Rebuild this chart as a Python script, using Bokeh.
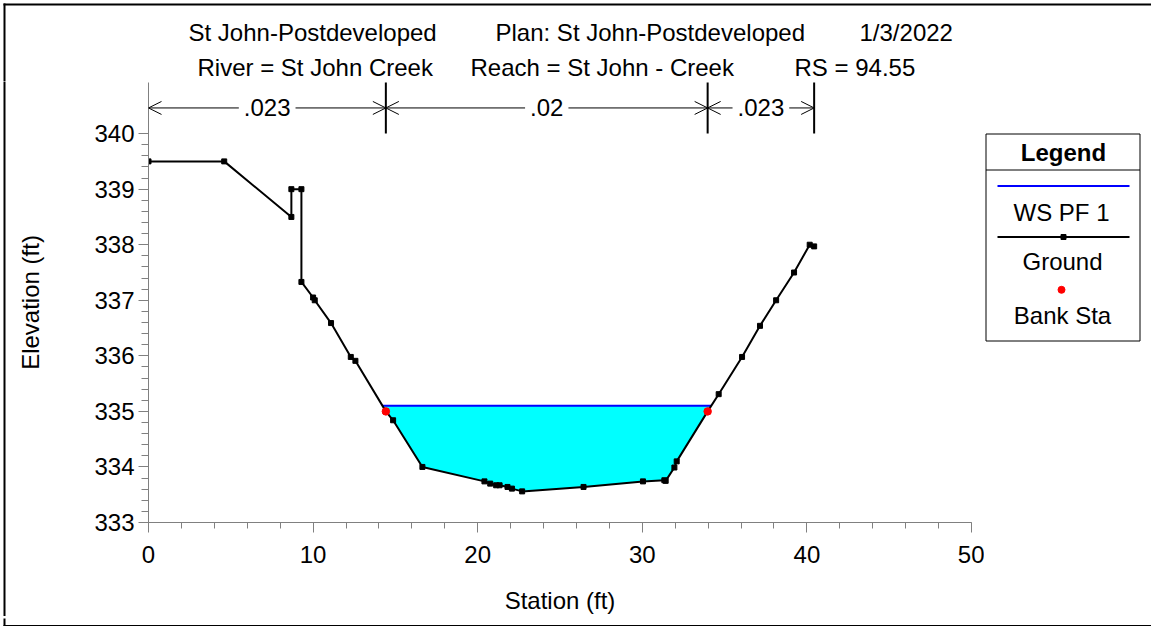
import numpy as np
from bokeh.plotting import figure
from bokeh.layouts import column, row
from bokeh.models import Range1d, FixedTicker, Label, Arrow, OpenHead
from bokeh.core.properties import value
from bokeh.embed import file_html
from bokeh.resources import INLINE

# ---------------- data ----------------
station = [0.0, 4.6, 8.68, 8.68, 9.29, 9.29, 10.0, 10.1, 11.09, 12.29, 12.57,
           14.42, 14.86, 16.64, 20.41, 20.76, 21.12, 21.33, 21.81, 22.08, 22.70,
           26.43, 30.04, 31.34, 31.42, 31.95, 32.09, 33.97, 34.64, 36.06, 37.15,
           38.13, 39.22, 40.17, 40.44]
elevation = [339.5, 339.5, 338.5, 339.0, 339.0, 337.33, 337.05, 337.0, 336.59, 335.98, 335.91,
             335.0, 334.84, 334.0, 333.74, 333.70, 333.67, 333.67, 333.64, 333.61, 333.56,
             333.64, 333.74, 333.76, 333.75, 333.99, 334.10, 335.0, 335.31, 335.98, 336.54,
             337.0, 337.5, 338.0, 337.97]
bank_sta = [14.42, 33.97]
ws_elev = 335.1
n_values = [".023", ".02", ".023"]
n_stations = [0.0, 14.42, 33.97, 40.44]

x_ticks = [0, 10, 20, 30, 40, 50]
y_ticks = [333, 334, 335, 336, 337, 338, 339, 340]

title_line1 = ["St John-Postdeveloped", "Plan: St John-Postdeveloped", "1/3/2022"]
title_line2 = ["River = St John Creek", "Reach = St John - Creek", "RS = 94.55"]
legend_title = "Legend"
legend_items = ["WS PF 1", "Ground", "Bank Sta"]

# ---------------- layout constants (page pixels) ----------------
FONT = "Liberation Sans"
W, H = 1151, 626
TOP_H = 81          # title strip
BOT_H = 10          # bottom frame strip
LEFT_W = 10         # left frame strip
LEG_X0 = 984        # legend panel starts
MID_H = H - TOP_H - BOT_H
MAIN_W = LEG_X0 - LEFT_W
FRAME_TOP = 82
LB = 148 - LEFT_W
FW = 823
RB = MAIN_W - LB - FW
TB = FRAME_TOP - TOP_H
FH = 441
BB = MID_H - TB - FH
X_MIN, X_MAX = 0, 50
Y_MIN, Y_MAX = 333, 340.92
SY = FH / (Y_MAX - Y_MIN)


def dy(py):
    # page pixel y -> elevation in the main frame
    return Y_MIN + (FRAME_TOP + FH - py) / SY


def pixel_fig(width, height, x0, x1, y0, y1):
    f = figure(width=width, height=height, x_range=Range1d(x0, x1), y_range=Range1d(y1, y0),
               x_axis_type=None, y_axis_type=None, output_backend="svg", toolbar_location=None,
               min_border=0)
    f.min_border_left = f.min_border_right = f.min_border_top = f.min_border_bottom = 0
    f.grid.visible = False
    f.outline_line_color = None
    f.background_fill_color = "white"
    f.border_fill_color = "white"
    return f


def put_text(f, xs, ys, texts, align="left", bold=False):
    f.text(x=xs, y=ys, text=texts, text_align=align, text_baseline="middle",
           text_font=value(FONT), text_font_size="24px", text_color="black",
           text_font_style="bold" if bold else "normal")


assert len(station) == len(elevation)
st = np.array(station)
el = np.array(elevation)
bank_elev = [elevation[station.index(s)] for s in bank_sta]

# water polygon from ground and water surface
il = station.index(bank_sta[0])
ir = station.index(bank_sta[1])
i = il
while el[i] < ws_elev:
    i -= 1
xl = st[i] + (ws_elev - el[i]) * (st[i + 1] - st[i]) / (el[i + 1] - el[i])
j = ir
while el[j] < ws_elev:
    j += 1
xr = st[j - 1] + (ws_elev - el[j - 1]) * (st[j] - st[j - 1]) / (el[j] - el[j - 1])
poly_x = [xl] + list(st[i + 1:j]) + [xr]
poly_y = [ws_elev] + list(el[i + 1:j]) + [ws_elev]

# ---------------- main plot ----------------
p = figure(width=MAIN_W, height=MID_H, x_range=Range1d(X_MIN, X_MAX), y_range=Range1d(Y_MIN, Y_MAX),
           output_backend="svg", toolbar_location=None,
           min_border_left=LB, min_border_right=RB, min_border_top=TB, min_border_bottom=BB)
p.grid.visible = False
p.outline_line_color = None
p.background_fill_color = "white"
p.border_fill_color = "white"

p.xaxis.ticker = FixedTicker(ticks=x_ticks, minor_ticks=list(np.arange(X_MIN, X_MAX + 0.1, 2.0)))
p.yaxis.ticker = FixedTicker(ticks=y_ticks, minor_ticks=list(np.round(np.arange(333, 340.01, 0.2), 2)))
for ax in (p.xaxis, p.yaxis):
    ax.axis_line_color = "#808080"
    ax.major_tick_line_color = "#808080"
    ax.minor_tick_line_color = "#808080"
    ax.major_tick_out = 10
    ax.major_tick_in = 0
    ax.minor_tick_out = 6
    ax.minor_tick_in = 0
    ax.major_label_text_font = FONT
    ax.major_label_text_font_size = "24px"
    ax.major_label_text_color = "black"
    ax.axis_label_text_font = FONT
    ax.axis_label_text_font_size = "24px"
    ax.axis_label_text_font_style = "normal"
    ax.axis_label_text_color = "black"
p.xaxis.axis_label = "Station (ft)"
p.yaxis.axis_label = "Elevation (ft)"
p.yaxis.minor_tick_out = 7
p.yaxis.major_label_standoff = 4
p.yaxis.axis_label_standoff = 47
p.xaxis.major_label_standoff = 13
p.xaxis.axis_label_standoff = 21

p.patch(poly_x, poly_y, fill_color="#00FFFF", line_alpha=0)
p.line([xl, xr], [ws_elev, ws_elev], line_color="#0000FF", line_width=2)
p.line(station, elevation, line_color="black", line_width=2)
p.scatter(station, elevation, marker="square", size=5, color="black")
p.scatter(bank_sta, bank_elev, marker="circle", size=7.5, color="red")

# Manning's n markers
n_top = 340.0
ny = dy(107.5)
p.segment(x0=n_stations[1:], y0=[n_top] * 3, x1=n_stations[1:], y1=[Y_MAX + 0.1] * 3,
          line_color="black", line_width=2)
for k in range(len(n_values)):
    a, b = n_stations[k], n_stations[k + 1]
    p.add_layout(Arrow(start=OpenHead(size=13, line_width=1, line_color="black"),
                       end=OpenHead(size=13, line_width=1, line_color="black"),
                       x_start=a, x_end=b, y_start=ny, y_end=ny,
                       line_color="black", line_width=1))
for k in range(len(n_values)):
    a, b = n_stations[k], n_stations[k + 1]
    p.add_layout(Label(x=(a + b) / 2, y=ny, text=n_values[k], text_align="center",
                       text_baseline="middle", text_font=FONT, text_font_size="24px",
                       text_color="black", background_fill_color="white", padding=5))

# ---------------- title strip ----------------
top = pixel_fig(W, TOP_H, 0, W, 0, TOP_H)
put_text(top, [188, 495, 859], [32, 32, 32], title_line1)
put_text(top, [197, 470, 794], [67, 67, 67], title_line2)
top.line([3, W], [4, 4], line_color="black", line_width=2)
top.line([4, 4], [3, TOP_H + 1], line_color="black", line_width=2)

# ---------------- left strip ----------------
left = pixel_fig(LEFT_W, MID_H, 0, LEFT_W, TOP_H, TOP_H + MID_H)
left.line([4, 4], [TOP_H - 1, TOP_H + MID_H + 1], line_color="black", line_width=2)

# ---------------- legend panel ----------------
leg = pixel_fig(W - LEG_X0, MID_H, LEG_X0, W, TOP_H, TOP_H + MID_H)
leg.quad(left=[985.5], right=[1139.5], top=[133.5], bottom=[340.5], fill_alpha=0,
         line_color="black", line_width=1)
leg.line([985.5, 1139.5], [169.5, 169.5], line_color="black", line_width=1)
put_text(leg, [1063], [152], [legend_title], align="center", bold=True)
leg.line([997, 1129], [185.5, 185.5], line_color="#0000FF", line_width=2)
leg.line([997, 1129], [236.5, 236.5], line_color="black", line_width=2)
leg.scatter([1063], [236.5], marker="square", size=5, color="black")
leg.scatter([1061], [289.3], marker="circle", size=7, color="red")
put_text(leg, [1061, 1062, 1062], [211.5, 261, 315], legend_items, align="center")

# ---------------- bottom strip ----------------
bot = pixel_fig(W, BOT_H, 0, W, H - BOT_H, H)
bot.line([3, W], [623.5, 623.5], line_color="black", line_width=2)
bot.line([4, 4], [H - BOT_H - 1, 624.5], line_color="black", line_width=2)

layout = column(top, row(column(left), p, column(leg)), bot)
open("out.html", "w").write(file_html(layout, INLINE))
